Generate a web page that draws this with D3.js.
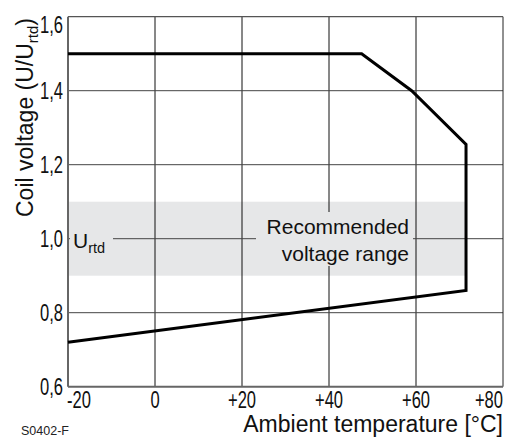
<!DOCTYPE html>
<html>
<head>
<meta charset="utf-8">
<script src="https://cdn.jsdelivr.net/npm/d3@7"></script>
<style>
  html, body { margin: 0; padding: 0; background: #fff; }
  svg { display: block; }
</style>
</head>
<body>
<svg id="chart" width="510" height="437"></svg>
<script>
// ---- data ----
const xTicks = [-20, 0, 20, 40, 60, 80];
const xTickLabels = ["-20", "0", "+20", "+40", "+60", "+80"];
const yTicks = [0.6, 0.8, 1.0, 1.2, 1.4, 1.6];
const yTickLabels = ["0,6", "0,8", "1,0", "1,2", "1,4", "1,6"];
const curveTemp = [-20, 47.5, 59, 71.5, 71.5, -20];
const curveVolt = [1.5, 1.5, 1.4, 1.255, 0.86, 0.72];
const bandRange = [0.9, 1.1];
const ratedVoltage = 1.0;

// ---- layout ----
const W = 510, H = 437;
const margin = { left: 68, right: 7, top: 16.7, bottom: 50.3 };
const svg = d3.select("#chart");
const x = d3.scaleLinear().domain([-20, 80]).range([margin.left, W - margin.right]);
const y = d3.scaleLinear().domain([0.6, 1.6]).range([H - margin.bottom, margin.top]);
const regular = "'Liberation Sans', Arial, sans-serif";
const bandColor = "#e6e7e8";
const condense = 0.72;

// recommended band (up to the curve's vertical edge)
const bandRight = d3.max(curveTemp);
svg.append("rect")
  .attr("x", x(-20)).attr("y", y(bandRange[1]))
  .attr("width", x(bandRight) - x(-20))
  .attr("height", y(bandRange[0]) - y(bandRange[1]))
  .attr("fill", bandColor);

// grid
const g = svg.append("g");
g.selectAll("line.vg").data(xTicks.slice(1, -1)).join("line")
  .attr("x1", d => x(d)).attr("x2", d => x(d))
  .attr("y1", y(1.6)).attr("y2", y(0.6))
  .attr("stroke", "#111").attr("stroke-width", 1);
g.selectAll("line.hg").data(yTicks.slice(1, -1)).join("line")
  .attr("x1", x(-20)).attr("x2", x(80))
  .attr("y1", d => y(d)).attr("y2", d => y(d))
  .attr("stroke", "#444").attr("stroke-width", 1);

// frame
svg.append("line").attr("x1", x(80)).attr("x2", x(80)).attr("y1", y(1.6)).attr("y2", y(0.6))
  .attr("stroke", "#222").attr("stroke-width", 1);
svg.append("line").attr("x1", x(-20)).attr("x2", x(80)).attr("y1", y(1.6)).attr("y2", y(1.6))
  .attr("stroke", "#555").attr("stroke-width", 1.3);
svg.append("line").attr("x1", x(-20)).attr("x2", x(-20)).attr("y1", y(1.6)).attr("y2", y(0.6))
  .attr("stroke", "#666").attr("stroke-width", 2);
svg.append("line").attr("x1", x(-20)).attr("x2", x(80)).attr("y1", y(0.6)).attr("y2", y(0.6))
  .attr("stroke", "#666").attr("stroke-width", 2);

// knockouts behind annotation texts
svg.append("rect").attr("x", 70).attr("y", y(ratedVoltage) - 14).attr("width", 43).attr("height", 28)
  .attr("fill", bandColor);
svg.append("rect").attr("x", 256).attr("y", 212).attr("width", 157).attr("height", 54)
  .attr("fill", bandColor);

// curve
const pts = curveTemp.map((t, i) => [x(t), y(curveVolt[i])]);
svg.append("path")
  .attr("d", d3.line()(pts))
  .attr("fill", "none").attr("stroke", "#000").attr("stroke-width", 3)
  .attr("stroke-linejoin", "miter");

// annotations
const ut = svg.append("text").attr("x", 73).attr("y", y(ratedVoltage) + 9.5)
  .attr("font-family", regular).attr("font-size", 21).attr("fill", "#111");
ut.append("tspan").text("U");
ut.append("tspan").attr("font-size", 14.5).attr("dy", 5).text("rtd");

svg.append("text").attr("x", 409).attr("y", 234).attr("text-anchor", "end")
  .attr("font-family", regular).attr("font-size", 21).attr("fill", "#111").text("Recommended");
svg.append("text").attr("x", 409).attr("y", 261).attr("text-anchor", "end")
  .attr("font-family", regular).attr("font-size", 21).attr("fill", "#111").text("voltage range");

// y tick labels (condensed)
svg.selectAll("text.yt").data(yTicks).join("text")
  .attr("transform", d => `translate(${x(-20) - 5},${Math.max(y(d), 25)}) scale(${condense},1)`)
  .attr("dy", "0.36em")
  .attr("text-anchor", "end")
  .attr("font-family", regular).attr("font-size", 23).attr("fill", "#111")
  .text((d, i) => yTickLabels[i]);

// x tick labels (condensed)
const last = xTicks.length - 1;
svg.selectAll("text.xt").data(xTicks).join("text")
  .attr("transform", (d, i) => `translate(${i === 0 ? x(d) - 1 : x(d)},408) scale(${condense},1)`)
  .attr("text-anchor", (d, i) => i === 0 ? "start" : (i === last ? "end" : "middle"))
  .attr("font-family", regular).attr("font-size", 23).attr("fill", "#111")
  .text((d, i) => xTickLabels[i]);

// axis titles
svg.append("text").attr("x", 503).attr("y", 432).attr("text-anchor", "end")
  .attr("font-family", regular).attr("font-size", 23).attr("fill", "#111")
  .text("Ambient temperature [°C]");

const yt = svg.append("text").attr("transform", "translate(33,217) rotate(-90)")
  .attr("font-family", regular).attr("font-size", 23).attr("fill", "#111");
yt.append("tspan").text("Coil voltage (U/U");
yt.append("tspan").attr("font-size", 15).attr("dy", 5).text("rtd");
yt.append("tspan").attr("dy", -5).text(")");

svg.append("text").attr("x", 21).attr("y", 435)
  .attr("font-family", regular).attr("font-size", 12.5).attr("fill", "#222").text("S0402-F");
</script>
</body>
</html>
